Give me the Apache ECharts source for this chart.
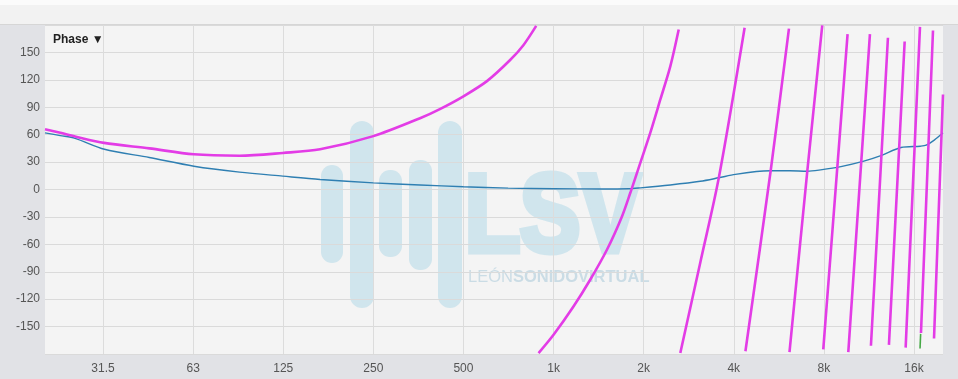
<!DOCTYPE html>
<html>
<head>
<meta charset="utf-8">
<title>Phase</title>
<script src="https://cdn.jsdelivr.net/npm/echarts@6/dist/echarts.min.js"></script>
<style>
html, body { margin: 0; padding: 0; background: #e1e2e6; }
#chart { width: 958px; height: 379px; }
</style>
</head>
<body>
<div id="chart"></div>
<script>
// octave ticks on the frequency axis
var tickFreq = [31.25, 62.5, 125, 250, 500, 1000, 2000, 4000, 8000, 16000];
var tickLabels = ['31.5', '63', '125', '250', '500', '1k', '2k', '4k', '8k', '16k'];

// blue trace (Hz / degrees)
var blueFreq = [20, 22.5, 25.2, 31.6, 44.6, 62.9, 89.3, 124.6, 166, 250, 358, 500, 705, 1000, 1432, 1780, 1950, 2455, 3090, 3560, 4050, 4760, 5310, 6160, 7040, 7800, 9120, 10880, 12400, 14470, 16790, 17580, 18700, 20000];
var bluePhase = [62, 59, 56, 44, 35, 25.5, 19, 14.6, 11, 7.3, 5, 3, 1.5, 0.8, 0.6, 0.8, 1.8, 5, 9, 12.8, 16.5, 19.7, 20.5, 20.5, 20, 21.5, 25, 31, 37, 46, 47.4, 48.5, 54, 62];

// magenta trace, wrapped at +/-180 (null = break between pieces)
var magFreq = [20, 22.5, 25.2, 31.5, 44.6, 62.8, 89.3, 124.6, 166, 250, 358, 417, 500, 599, 716, 794, 875, null,
  891, 1000, 1167, 1327, 1509, 1694, 1805, 1949, 2104, 2274, 2456, 2619, null,
  2651, 3096, 3565, 4348, null,
  4375, 5310, 6115, null,
  6140, 7042, 7900, null,
  7963, 9600, null,
  9653, 11401, null,
  11488, 13094, null,
  13195, 14893, null,
  15005, 16755, null,
  16884, 18520, null,
  18665, 20000];
var magPhase = [66, 62, 58, 51, 45, 38.5, 37, 40, 44, 58.4, 78, 88, 102, 118.6, 141.7, 158.2, 179, null,
  -179, -159, -127.8, -98.5, -65.7, -29.2, -3.6, 29.2, 62, 98.5, 135, 175, null,
  -179, -79, 12.8, 177, null,
  -177, 20, 176, null,
  -178, 20, 179.5, null,
  -175, 170, null,
  -178, 170, null,
  -171, 166, null,
  -170, 162, null,
  -173, 178, null,
  -157, 174, null,
  -163, 104];

// small green piece peeking out under the magenta near 16.8k
var greenFreq = [16760, 16840];
var greenPhase = [-174, -158];

function pairs(xs, ys) {
  return xs.map(function (x, i) { return [x, ys[i]]; });
}

function freqLabel(v) {
  var best = 0;
  for (var i = 1; i < tickFreq.length; i++) {
    if (Math.abs(Math.log(tickFreq[i] / v)) < Math.abs(Math.log(tickFreq[best] / v))) best = i;
  }
  return tickLabels[best];
}

var wmFill = '#d0e5ed';
var wmText = '#cadce5';
var labelFont = 'Liberation Sans, Arial, sans-serif';

var chart = echarts.init(document.getElementById('chart'));

chart.setOption({
  animation: false,
  backgroundColor: '#e1e2e6',
  title: {
    text: 'Phase \u25BC',
    left: 48,
    top: 29,
    textStyle: { fontSize: 12, fontWeight: 'bold', color: '#222', fontFamily: labelFont }
  },
  grid: {
    left: 45, right: 15, top: 25, bottom: 25,
    show: true, backgroundColor: '#f4f4f4', borderWidth: 0
  },
  xAxis: {
    type: 'log',
    logBase: 2,
    min: 20,
    max: 20000,
    axisLine: { show: false },
    axisTick: { show: false, customValues: tickFreq },
    axisLabel: {
      customValues: tickFreq,
      formatter: freqLabel,
      color: '#555', fontSize: 12, fontFamily: labelFont, margin: 9
    },
    splitLine: { show: true, lineStyle: { color: '#dcdcdc', width: 1 } }
  },
  yAxis: {
    type: 'value',
    min: -180,
    max: 180,
    interval: 30,
    axisLine: { show: false },
    axisTick: { show: false },
    axisLabel: {
      color: '#555', fontSize: 12, fontFamily: labelFont, margin: 5,
      formatter: function (v) { return Math.abs(v) === 180 ? '' : v; }
    },
    splitLine: { lineStyle: { color: '#dadada', width: 1 } }
  },
  graphic: [
    { type: 'rect', z: 1, shape: { x: 0, y: 0, width: 958, height: 25 }, style: { fill: '#f2f2f2' } },
    { type: 'rect', z: 1, shape: { x: 0, y: 0, width: 958, height: 5 }, style: { fill: '#fbfbfb' } },
    { type: 'line', z: 1, shape: { x1: 0, y1: 24.5, x2: 958, y2: 24.5 }, style: { stroke: '#d6d6d6', lineWidth: 1 } },
    // watermark, kept under the grid lines
    { type: 'rect', z: 0, z2: -0.5, shape: { x: 321, y: 165, width: 22, height: 98, r: 11 }, style: { fill: wmFill } },
    { type: 'rect', z: 0, z2: -0.5, shape: { x: 350, y: 121, width: 24, height: 187, r: 12 }, style: { fill: wmFill } },
    { type: 'rect', z: 0, z2: -0.5, shape: { x: 379, y: 170, width: 23, height: 87, r: 11 }, style: { fill: wmFill } },
    { type: 'rect', z: 0, z2: -0.5, shape: { x: 409, y: 160, width: 23, height: 110, r: 11 }, style: { fill: wmFill } },
    { type: 'rect', z: 0, z2: -0.5, shape: { x: 438, y: 121, width: 24, height: 187, r: 12 }, style: { fill: wmFill } },
    {
      type: 'text', z: 0, z2: -0.5, x: 465, y: 221, scaleX: 0.82,
      style: {
        text: 'LSV', fill: wmFill, stroke: wmFill, lineWidth: 7, lineJoin: 'round',
        font: 'bold 110px Liberation Sans, Arial, sans-serif', align: 'left', verticalAlign: 'middle'
      }
    },
    {
      type: 'text', z: 0, z2: -0.5, x: 468, y: 277,
      style: {
        text: '{a|LE\u00D3N}{b|SONIDOVIRTUAL}',
        verticalAlign: 'middle', align: 'left',
        rich: {
          a: { fontSize: 16.5, fontFamily: labelFont, fill: wmText, fontWeight: 'normal' },
          b: { fontSize: 16.5, fontFamily: labelFont, fill: wmText, fontWeight: 'bold' }
        }
      }
    }
  ],
  series: [
    {
      name: 'green', type: 'line', z: 2,
      data: pairs(greenFreq, greenPhase),
      showSymbol: false, symbol: 'none',
      lineStyle: { color: '#45a845', width: 1.6 }
    },
    {
      name: 'blue', type: 'line', z: 3,
      data: pairs(blueFreq, bluePhase),
      showSymbol: false, symbol: 'none', smooth: 0.3,
      lineStyle: { color: '#2f7fb2', width: 1.4 }
    },
    {
      name: 'magenta', type: 'line', z: 4,
      data: pairs(magFreq, magPhase),
      showSymbol: false, symbol: 'none', smooth: 0.3,
      connectNulls: false,
      lineStyle: { color: '#e33ce6', width: 2.6 }
    }
  ]
});
</script>
</body>
</html>
